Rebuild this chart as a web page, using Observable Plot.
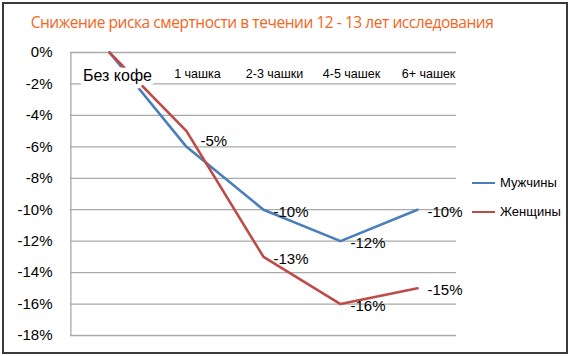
<!DOCTYPE html>
<html>
<head>
<meta charset="utf-8">
<script src="https://cdn.jsdelivr.net/npm/d3@7"></script>
<script src="https://cdn.jsdelivr.net/npm/@observablehq/plot@0.6"></script>
<style>
  html, body { margin: 0; padding: 0; background: #fff; }
  #wrap { position: relative; width: 570px; height: 356px; overflow: hidden; font-family: "Liberation Sans", Arial, sans-serif; }
  #border { position: absolute; left: 2px; top: 2px; width: 566px; height: 352px; border: 2px solid #3a3a3a; box-sizing: border-box; pointer-events: none; }
  #title { position: absolute; left: 0; top: 11px; width: 524px; text-align: center; font-family: "Open Sans", sans-serif; font-size: 15.5px; letter-spacing: -0.45px; color: #f26522; white-space: nowrap; }
  #chart { position: absolute; left: 0; top: 0; }
  .leg { position: absolute; left: 472px; height: 13px; font-size: 13px; color: #000; white-space: nowrap; }
  .leg span.sw { position: absolute; left: 0; top: 6px; width: 23px; height: 0; border-top: 2.5px solid; }
  .leg span.tx { position: absolute; left: 28px; top: -1px; }
</style>
</head>
<body>
<div id="wrap">
  <div id="chart"></div>
  <div id="title"></div>
  <div id="legend"></div>
  <div id="border"></div>
</div>
<script>
const titleText = "Снижение риска смертности в течении 12 - 13 лет исследования";
const categories = ["Без кофе", "1 чашка", "2-3 чашки", "4-5 чашек", "6+ чашек"];
const seriesNames = ["Мужчины", "Женщины"];
const menValues = [0, -6, -10, -12, -10];
const womenValues = [0, -5, -13, -16, -15];
const menLabels = [null, null, "-10%", "-12%", "-10%"];
const womenLabels = [null, "-5%", "-13%", "-16%", "-15%"];
const yTicks = [0, -2, -4, -6, -8, -10, -12, -14, -16, -18];
const seriesColors = ["#4a7ebb", "#be4b48"];

const rows = [];
categories.forEach((c, i) => rows.push({cat: c, i, series: seriesNames[0], value: menValues[i], label: menLabels[i]}));
categories.forEach((c, i) => rows.push({cat: c, i, series: seriesNames[1], value: womenValues[i], label: womenLabels[i]}));

const W = 570, H = 356, mL = 70, mR = 114, mT = 52, mB = 21;
const step = (W - mL - mR) / categories.length;

const labeled = rows.filter(d => d.label && !(d.series === seriesNames[1] && d.i === 1));
const special = rows.filter(d => d.label && d.series === seriesNames[1] && d.i === 1);

const chart = Plot.plot({
  width: W, height: H,
  marginTop: mT, marginBottom: mB, marginLeft: mL, marginRight: mR,
  style: {fontFamily: "'Liberation Sans', Arial, sans-serif", color: "#000", background: "transparent"},
  x: {type: "point", domain: categories, padding: 0.5, axis: null},
  y: {domain: [-18, 0], axis: null},
  color: {domain: seriesNames, range: seriesColors},
  marks: [
    Plot.ruleY(yTicks, {stroke: "#a9a9a9", strokeWidth: 1.3}),
    Plot.ruleX([categories[0]], {dx: -step / 2, stroke: "#a9a9a9", strokeWidth: 1.3}),
    Plot.axisY({ticks: yTicks, tickSize: 0, tickPadding: 18, tickFormat: d => `${d}%`, fontSize: 15, label: null}),
    Plot.line(rows, {x: "cat", y: "value", z: "series", stroke: "series", strokeWidth: 2.6}),
    Plot.text(categories.slice(0, 1), {x: d => d, frameAnchor: "top", dy: 17, dx: 8, fontSize: 16, stroke: "white", strokeWidth: 9, fill: "black"}),
    Plot.text(categories.slice(1), {x: d => d, frameAnchor: "top", dy: 17, dx: 11, fontSize: 12.5}),
    Plot.text(labeled, {x: "cat", y: "value", text: "label", textAnchor: "start", dx: 10, dy: 2, fontSize: 15}),
    Plot.text(special, {x: "cat", y: "value", text: "label", textAnchor: "start", dx: 14, dy: 10, fontSize: 15})
  ]
});
document.getElementById("chart").appendChild(chart);
document.getElementById("title").textContent = titleText;

const legend = document.getElementById("legend");
seriesNames.forEach((name, k) => {
  const el = document.createElement("div");
  el.className = "leg";
  el.style.top = (176 + k * 29) + "px";
  el.innerHTML = `<span class="sw" style="border-color:${seriesColors[k]}"></span><span class="tx"></span>`;
  el.querySelector(".tx").textContent = name;
  legend.appendChild(el);
});
</script>
</body>
</html>
